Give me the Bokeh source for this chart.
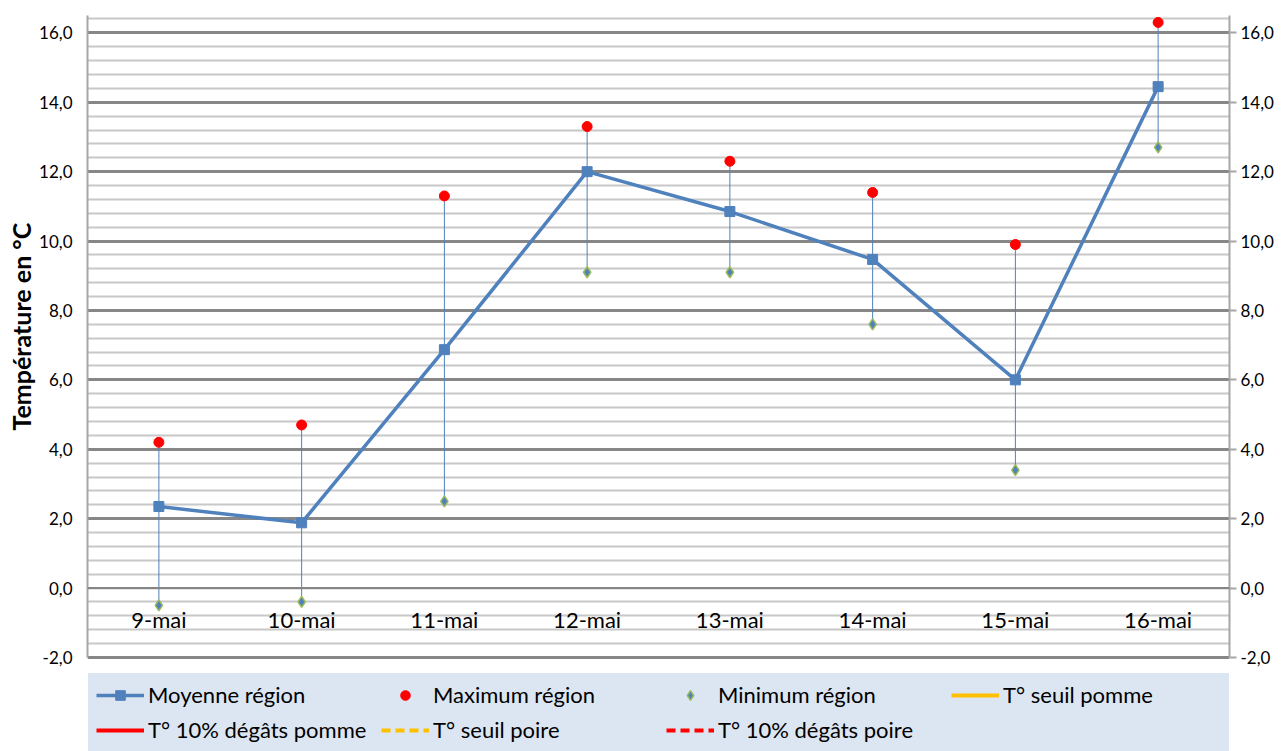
from bokeh.plotting import figure
from bokeh.models import (FactorRange, Range1d, LinearAxis, FixedTicker, CustomJSTickFormatter,
                          Legend, LegendItem, Span, Grid, ColumnDataSource, Title)
from bokeh.core.properties import value
from bokeh.embed import file_html
from bokeh.resources import INLINE

nan = float("nan")

# ---- data ----
days = ["9-mai", "10-mai", "11-mai", "12-mai", "13-mai", "14-mai", "15-mai", "16-mai"]
moyenne = [2.35, 1.88, 6.87, 12.0, 10.85, 9.47, 6.0, 14.45]
maximum = [4.2, 4.7, 11.3, 13.3, 12.3, 11.4, 9.9, 16.3]
minimum = [-0.5, -0.4, 2.5, 9.1, 9.1, 7.6, 3.4, 12.7]
# threshold series: none of their values is visible inside the displayed range
seuil_pomme = [nan] * len(days)
degats_pomme = [nan] * len(days)
seuil_poire = [nan] * len(days)
degats_poire = [nan] * len(days)

y_major_ticks = [-2, 0, 2, 4, 6, 8, 10, 12, 14, 16]
y_grid_major = [t for t in y_major_ticks if t != 0]
y_minor_ticks = [round(-2 + 0.4 * i, 1) for i in range(47)]
x_axis_cross = 0.0
y_axis_min, y_axis_max = -2.0, 16.5
y_view_min = -4.71  # frame extended below the axis to hold the legend

FONT = "Lato"
BLUE = "#4F81BD"

src = ColumnDataSource(dict(day=days, moy=moyenne, mx=maximum, mn=minimum,
                            base=[x_axis_cross] * len(days),
                            sp=seuil_pomme, dp=degats_pomme, so=seuil_poire, do=degats_poire))

p = figure(width=1287, height=751,
           x_range=FactorRange(factors=days), y_range=Range1d(y_view_min, y_axis_max),
           output_backend="svg", toolbar_location=None,
           min_border_left=87, min_border_right=58, min_border_top=15, min_border_bottom=0)
p.outline_line_color = None
p.xaxis.visible = False
p.xgrid.visible = False
p.ygrid.visible = False

grid = Grid(dimension=1, ticker=FixedTicker(ticks=y_grid_major, minor_ticks=y_minor_ticks),
            grid_line_color="#878787", grid_line_width=3,
            minor_grid_line_color="#C8C8C8", minor_grid_line_width=2)
p.add_layout(grid)
p.add_layout(Span(location=x_axis_cross, dimension="width", line_color="#868686", line_width=2))

fmt_code = "return tick.toFixed(1).replace('.', ',');"
ya = p.yaxis[0]
ya.ticker = FixedTicker(ticks=y_major_ticks, minor_ticks=[])
ya.formatter = CustomJSTickFormatter(code=fmt_code)
ya.bounds = (y_axis_min, y_axis_max)
ya.major_tick_out = 0
ya.major_tick_in = 0
ya.minor_tick_out = 0
ya.minor_tick_in = 0
ya.axis_line_color = "#A6A6A6"
ya.axis_line_width = 2
ya.major_label_standoff = 15
ya.major_label_text_font = FONT
ya.major_label_text_font_size = "17px"
ya.major_label_text_color = "black"

# vertical axis title, centred on the axis part of the frame
ytitle = Title(text="Température en °C", align="left", offset=321,
               text_font=FONT, text_font_style="bold", text_font_size="25px",
               text_color="black", standoff=2)
p.add_layout(ytitle, "left")

ra = LinearAxis(ticker=FixedTicker(ticks=y_major_ticks, minor_ticks=[]),
                formatter=CustomJSTickFormatter(code=fmt_code),
                bounds=(y_axis_min, y_axis_max))
ra.major_tick_out = 7
ra.major_tick_in = 0
ra.major_tick_line_color = "#A6A6A6"
ra.major_tick_line_width = 2
ra.minor_tick_out = 0
ra.minor_tick_in = 0
ra.axis_line_color = "#A6A6A6"
ra.axis_line_width = 2
ra.major_label_standoff = 4
ra.major_label_text_font = FONT
ra.major_label_text_font_size = "17px"
ra.major_label_text_color = "black"
p.add_layout(ra, "right")

# category labels placed on the x axis crossing (inside the plot)
p.text(x="day", y="base", text="day", source=src, text_font=value(FONT),
       text_font_size="22px", text_align="center", text_baseline="middle",
       y_offset=31, text_color="black")

hl = p.segment(x0="day", y0="mn", x1="day", y1="mx", source=src, line_color=BLUE, line_width=1)
ml = p.line("day", "moy", source=src, line_color=BLUE, line_width=3.5)
ms = p.scatter("day", "moy", source=src, marker="square", size=10,
               fill_color=BLUE, line_color=BLUE)
mxr = p.scatter("day", "mx", source=src, marker="circle", size=10,
                fill_color="#FF0000", line_color="#FF0000")
mnr = p.scatter("day", "mn", source=src, marker="diamond", size=11,
                fill_color=BLUE, line_color="#9BBB59", line_width=1.5)

s1 = p.line("day", "sp", source=src, line_color="#FFC000", line_width=4)
s2 = p.line("day", "dp", source=src, line_color="#FF0000", line_width=4)
s3 = p.line("day", "so", source=src, line_color="#FFC000", line_width=4, line_dash="9 5")
s4 = p.line("day", "do", source=src, line_color="#FF0000", line_width=4, line_dash="9 5")

legend = Legend(items=[
    LegendItem(label="Moyenne région", renderers=[ml, ms]),
    LegendItem(label="Maximum région", renderers=[mxr]),
    LegendItem(label="Minimum région", renderers=[mnr]),
    LegendItem(label="T° seuil pomme", renderers=[s1]),
    LegendItem(label="T° 10% dégâts pomme", renderers=[s2]),
    LegendItem(label="T° seuil poire", renderers=[s3]),
    LegendItem(label="T° 10% dégâts poire", renderers=[s4]),
], ncols=4, orientation="horizontal", location=(1, 0), margin=0)
legend.label_text_font = FONT
legend.label_text_font_size = "22px"
legend.label_text_color = "black"
legend.glyph_width = 48
legend.glyph_height = 24
legend.label_standoff = 4
legend.label_width = 225
legend.spacing = 8
legend.padding = 7
legend.background_fill_color = "#DCE6F2"
legend.background_fill_alpha = 1
legend.border_line_color = "#DCE6F2"
legend.border_line_width = 1
p.add_layout(legend)

open("out.html", "w").write(file_html(p, INLINE))
